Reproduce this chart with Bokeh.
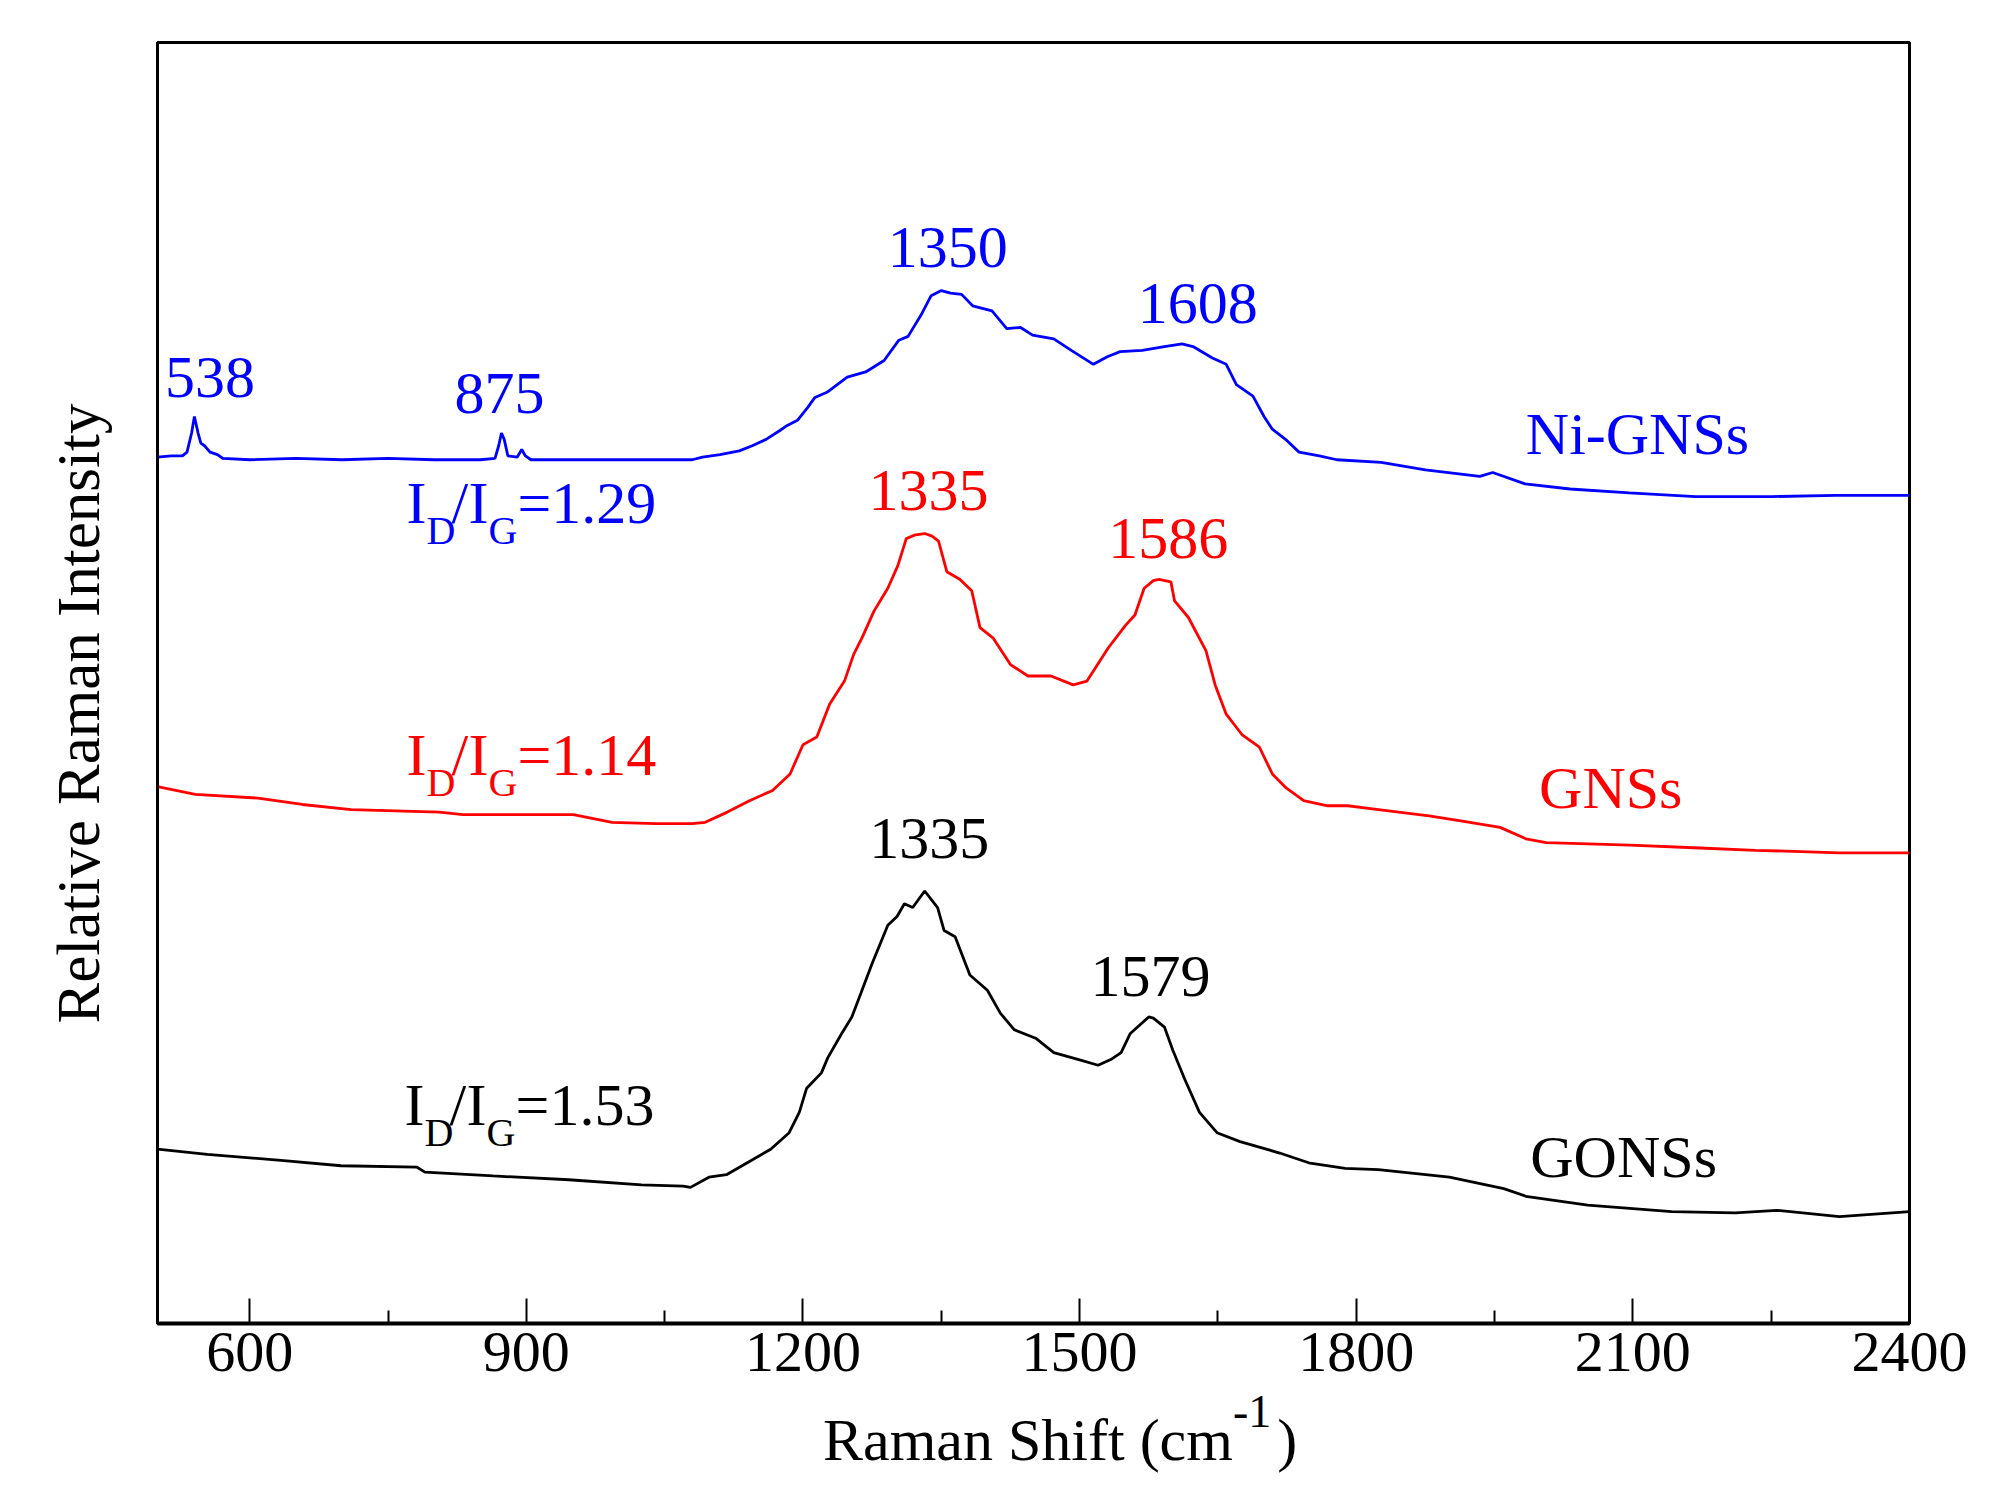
import numpy as np
from bokeh.plotting import figure
from bokeh.models import Range1d, FixedTicker, Label, Div
from bokeh.layouts import column
from bokeh.embed import file_html
from bokeh.resources import INLINE

# Raman shift (cm-1) and relative intensity (arbitrary units)
ni_x = [500, 515, 527, 532, 537, 540, 544, 547, 551, 557,
        565, 571, 600, 650, 700, 750, 800, 850, 866, 870,
        873, 876, 880, 890, 895, 899, 905, 950, 1000, 1050,
        1080, 1091, 1110, 1131, 1145, 1160, 1175, 1183, 1194, 1205,
        1213, 1226, 1248, 1268, 1288, 1304, 1314, 1329, 1339, 1350,
        1360, 1372, 1384, 1405, 1421, 1436, 1449, 1472, 1491, 1515,
        1530, 1544, 1568, 1592, 1611, 1623, 1644, 1659, 1670, 1688,
        1700, 1709, 1725, 1738, 1760, 1779, 1827, 1875, 1934, 1948,
        1983, 2032, 2096, 2168, 2250, 2320, 2400]
ni_y = [681, 682, 682, 685, 700, 713, 700, 692, 690, 685,
        683, 680, 679, 680, 679, 680, 679, 679, 680, 690,
        700, 695, 682, 681, 687, 682, 679, 679, 679, 679,
        679, 681, 683, 686, 690, 695, 702, 706, 710, 720,
        728, 732, 744, 748, 757, 773, 776, 794, 808, 812,
        810, 809, 800, 796, 782, 783, 777, 774, 765, 754,
        760, 764, 765, 768, 770, 768, 759, 754, 738, 729,
        713, 703, 694, 685, 682, 679, 677, 671, 666, 669,
        660, 656, 653, 650, 650, 651, 651]

gns_x = [500, 541, 609, 657, 710, 806, 831, 951, 993, 1040,
         1080, 1094, 1118, 1142, 1167, 1186, 1200, 1215, 1229, 1245,
         1255, 1264, 1277, 1292, 1303, 1312, 1322, 1332, 1340, 1347,
         1356, 1370, 1383, 1392, 1406, 1425, 1444, 1469, 1493, 1508,
         1531, 1550, 1560, 1570, 1580, 1586, 1599, 1603, 1618, 1637,
         1647, 1659, 1676, 1695, 1709, 1724, 1743, 1769, 1791, 1824,
         1879, 1915, 1956, 1984, 2006, 2097, 2166, 2233, 2324, 2400]
gns_y = [422, 416, 413, 408, 404, 402, 400, 400, 394, 393,
         393, 394, 402, 411, 419, 432, 455, 461, 487, 505,
         526, 539, 560, 578, 596, 617, 620, 621, 619, 615,
         591, 585, 576, 547, 539, 518, 509, 509, 502, 505,
         531, 549, 557, 578, 584, 585, 583, 568, 555, 529,
         502, 479, 463, 453, 432, 421, 411, 407, 407, 404,
         399, 395, 390, 381, 378, 376, 374, 372, 370, 370]

gons_x = [500, 554, 637, 699, 781, 790, 864, 946, 1025, 1070,
          1078, 1098, 1117, 1141, 1165, 1185, 1196, 1204, 1220, 1227,
          1242, 1253, 1263, 1275, 1292, 1302, 1310, 1319, 1332, 1346,
          1353, 1365, 1381, 1400, 1414, 1429, 1453, 1472, 1501, 1520,
          1535, 1545, 1555, 1575, 1580, 1592, 1601, 1614, 1630, 1649,
          1674, 1717, 1750, 1788, 1824, 1901, 1960, 1984, 2051, 2142,
          2211, 2256, 2324, 2400]
gons_y = [137, 133, 128, 124, 123, 119, 116, 113, 109, 108,
          107, 115, 117, 127, 137, 150, 166, 185, 197, 209,
          228, 241, 260, 283, 313, 320, 330, 327, 340, 327,
          309, 304, 274, 262, 244, 231, 224, 213, 207, 203,
          208, 213, 228, 241, 240, 233, 215, 192, 166, 150,
          143, 134, 126, 122, 121, 115, 106, 100, 93, 88,
          87, 89, 84, 88]

major_ticks = [600, 900, 1200, 1500, 1800, 2100, 2400]
minor_ticks = [750, 1050, 1350, 1650, 1950, 2250]

# peak labels: (text, x, y, colour)
peak_labels = [("538", 557, 744, "blue"), ("875", 871, 731, "blue"),
               ("1350", 1357, 846, "blue"), ("1608", 1628, 802, "blue"),
               ("1335", 1336, 655, "red"), ("1586", 1596, 617, "red"),
               ("1335", 1337, 381, "black"), ("1579", 1577, 273, "black")]
names = [("Ni-GNSs", 2105, 699, "blue"), ("GNSs", 2076, 421, "red"),
         ("GONSs", 2090, 131, "black")]
ratios = [("1.29", 770, 645, "blue"), ("1.14", 770, 447, "red"),
          ("1.53", 768, 172, "black")]

FONT = "Liberation Serif"

p = figure(width=1975, height=1410, output_backend="svg", toolbar_location=None,
           x_range=Range1d(500, 2400), y_range=Range1d(0, 1007),
           min_border_left=157, min_border_right=66, min_border_top=42,
           min_border_bottom=87)
p.background_fill_color = "white"
p.border_fill_color = "white"
p.grid.visible = False
p.outline_line_color = "black"
p.outline_line_width = 3

p.line(ni_x, ni_y, color="#0000FF", line_width=2.8)
p.line(gns_x, gns_y, color="#FF0000", line_width=2.8)
p.line(gons_x, gons_y, color="#000000", line_width=2.8)

xa = p.xaxis[0]
xa.ticker = FixedTicker(ticks=major_ticks, minor_ticks=minor_ticks)
xa.axis_line_width = 4
xa.major_tick_in = 25
xa.major_tick_out = 0
xa.minor_tick_in = 13
xa.minor_tick_out = 0
xa.major_tick_line_width = 2
xa.minor_tick_line_width = 2
xa.major_label_text_font = FONT
xa.major_label_text_font_size = "58px"
xa.major_label_text_color = "black"
xa.major_label_standoff = 9

ya = p.yaxis[0]
ya.ticker = FixedTicker(ticks=[])
ya.major_tick_out = 0
ya.minor_tick_out = 0
ya.axis_line_width = 3
# trailing no-break spaces nudge the centred title down, as in the original
ya.axis_label = "Relative Raman Intensity" + "\u00a0" * 4
ya.axis_label_text_font = FONT
ya.axis_label_text_font_size = "61px"
ya.axis_label_text_font_style = "normal"
ya.axis_label_text_color = "black"
ya.axis_label_standoff = 46

for txt, x, y, c in peak_labels + names:
    p.add_layout(Label(x=x, y=y, text=txt, text_font=FONT, text_font_size="60px",
                       text_color=c, text_align="center", text_baseline="alphabetic"))

# I_D/I_G = value, built from pieces so the subscripts sit lower and smaller
for val, x, y, c in ratios:
    parts = [("I", 0, 0, "60px"), ("D", 20, -28, "40px"), ("/", 45, 0, "60px"),
             ("I", 62, 0, "60px"), ("G", 82, -28, "40px"), ("=" + val, 111, 0, "60px")]
    for txt, dx, dy, fs in parts:
        p.add_layout(Label(x=x, y=y, x_offset=dx, y_offset=dy, text=txt, text_font=FONT,
                           text_font_size=fs, text_color=c, text_baseline="alphabetic"))

# x axis title with a raised superscript, set as real HTML text under the plot
xtitle = Div(
    text='<div style="padding-left:823px; font-family:\'Liberation Serif\'; font-size:60px; '
         'line-height:60px; white-space:nowrap; color:black">Raman Shift (cm'
         '<span style="font-size:46px; position:relative; top:-33px">-1</span>'
         '<span style="padding-left:6px">)</span></div>',
    width=1975, height=79, margin=0)

layout = column(p, xtitle, spacing=0)
open("out.html", "w").write(file_html(layout, INLINE))
